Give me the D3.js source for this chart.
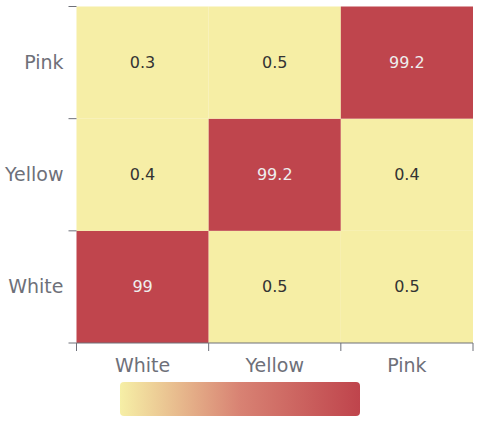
<!DOCTYPE html>
<html><head><meta charset="utf-8">
<script src="https://cdn.jsdelivr.net/npm/d3@7"></script>
<style>body{margin:0;background:#fff}svg{display:block}</style>
</head><body><svg id="c" width="483" height="421"></svg>
<script>
const xCategories = ["White", "Yellow", "Pink"];
const yCategories = ["White", "Yellow", "Pink"];
// rows: [xIndex, yIndex, value]
const cellValues = [
  [0, 0, 99], [1, 0, 0.5], [2, 0, 0.5],
  [0, 1, 0.4], [1, 1, 99.2], [2, 1, 0.4],
  [0, 2, 0.3], [1, 2, 0.5], [2, 2, 99.2]
];
const colorStops = ["#f6efa6", "#d88273", "#bf444c"];
const valueRange = [0, 100];

const svg = d3.select("#c");
const L = 76.5, R = 473, T = 6.5, B = 343;
const font = "DejaVu Sans, sans-serif";
const x = d3.scaleBand().domain(xCategories).range([L, R]);
const y = d3.scaleBand().domain(yCategories).range([B, T]);
const color = d3.scaleLinear().domain([valueRange[0], (valueRange[0]+valueRange[1])/2, valueRange[1]]).range(colorStops);

svg.append("g").selectAll("rect").data(cellValues).join("rect")
  .attr("x", d => x(xCategories[d[0]]))
  .attr("y", d => y(yCategories[d[1]]))
  .attr("width", x.bandwidth()).attr("height", y.bandwidth())
  .attr("fill", d => color(d[2]));

svg.append("g").selectAll("text").data(cellValues).join("text")
  .attr("x", d => x(xCategories[d[0]]) + x.bandwidth()/2)
  .attr("y", d => y(yCategories[d[1]]) + y.bandwidth()/2)
  .attr("text-anchor", "middle").attr("dominant-baseline", "central")
  .attr("font-family", font).attr("font-size", 16)
  .attr("fill", d => d[2] > 50 ? "#eee" : "#333")
  .text(d => d[2]);

// x axis
const gx = svg.append("g").attr("transform", `translate(0,${B})`)
  .call(d3.axisBottom(x).tickSize(0).tickPadding(16));
gx.select(".domain").attr("stroke", "#6e7079").attr("d", `M${L},0H${R}`);
gx.selectAll("text").attr("font-family", font).attr("font-size", 19).attr("fill", "#6e7079");
const xb = [L].concat(xCategories.map(c => x(c) + x.bandwidth()));
gx.selectAll("line.b").data(xb).join("line").attr("class","b")
  .attr("x1", d => d).attr("x2", d => d).attr("y1", 0).attr("y2", 8).attr("stroke", "#6e7079");

// y axis
const gy = svg.append("g").attr("transform", `translate(${L},0)`)
  .call(d3.axisLeft(y).tickSize(0).tickPadding(13));
gy.select(".domain").remove();
gy.selectAll("text").attr("font-family", font).attr("font-size", 19).attr("fill", "#6e7079");
const yb = [T].concat(yCategories.map(c => y(c) + y.bandwidth()));
gy.selectAll("line.b").data(yb).join("line").attr("class","b")
  .attr("x1", -8).attr("x2", 0).attr("y1", d => d).attr("y2", d => d).attr("stroke", "#6e7079");

// visual map
const defs = svg.append("defs");
const grad = defs.append("linearGradient").attr("id", "g");
colorStops.forEach((c, i) => grad.append("stop").attr("offset", (i/(colorStops.length-1)*100) + "%").attr("stop-color", c));
svg.append("rect").attr("x", 120).attr("y", 382).attr("width", 240).attr("height", 34)
  .attr("rx", 4).attr("fill", "url(#g)");
</script></body></html>
